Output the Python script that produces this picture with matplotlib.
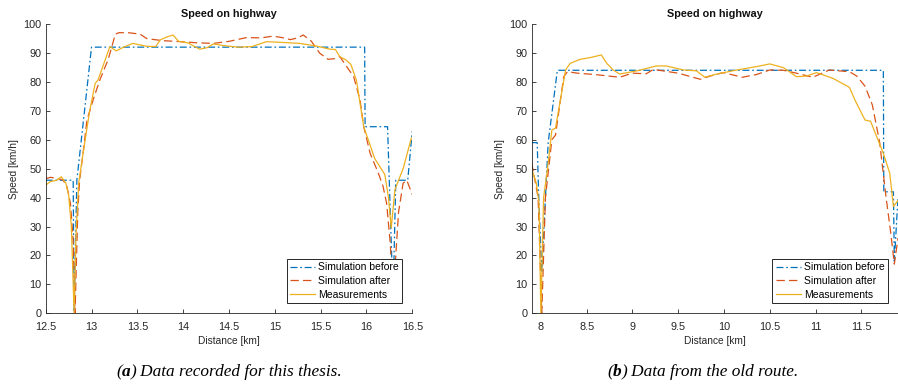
import matplotlib
matplotlib.use("Agg")
import matplotlib.pyplot as plt

plt.rcParams['font.family'] = ['Liberation Sans', 'DejaVu Sans']
plt.rcParams['lines.scale_dashes'] = False

# ---------------- data: (a) Data recorded for this thesis ----------------
before_a_x = [12.5, 12.80, 12.81, 12.84, 13.0, 15.98, 15.985, 16.23, 16.29, 16.32, 16.45, 16.5]
before_a_y = [46, 46, 1, 46, 92, 92, 64.5, 64.5, 5, 46, 46, 63]

after_a_x = [12.5, 12.55, 12.62, 12.69, 12.73, 12.77, 12.80, 12.82, 12.85, 12.87, 12.91,
             12.95, 13.02, 13.09, 13.18, 13.22, 13.26, 13.3, 13.4, 13.53, 13.6, 13.71,
             13.8, 13.97, 14.15, 14.33, 14.5, 14.69, 14.85, 14.98, 15.08, 15.17, 15.25,
             15.31, 15.4, 15.49, 15.58, 15.65, 15.71, 15.79, 15.86, 15.93, 15.97, 16.04,
             16.13, 16.18, 16.22, 16.26, 16.29, 16.31, 16.35, 16.4, 16.44, 16.5]
after_a_y = [46.5, 47, 46.7, 46, 44, 38, 25, 0, 35, 46, 56,
             66.8, 74, 80.6, 87.6, 92, 96.5, 97, 97, 96.5, 95, 94.5,
             94.2, 93.9, 93.5, 93.3, 94, 95.3, 95.2, 95.8, 95.3, 94.6, 95.2,
             96.2, 94, 89.9, 87.8, 88, 88.7, 85, 81.8, 73.7, 64.5, 55.3,
             48.4, 44, 38, 24, 5, 15, 35, 45, 46, 41]

meas_a_x = [12.5, 12.55, 12.62, 12.67, 12.72, 12.75, 12.78, 12.80, 12.81, 12.83, 12.86,
            12.93, 12.98, 13.04, 13.07, 13.12, 13.2, 13.27, 13.35, 13.45, 13.6, 13.7,
            13.75, 13.82, 13.89, 13.95, 14.05, 14.18, 14.26, 14.33, 14.45, 14.6, 14.75,
            14.91, 15.1, 15.27, 15.45, 15.6, 15.66, 15.71, 15.78, 15.83, 15.89, 15.97,
            16.03, 16.09, 16.2, 16.24, 16.27, 16.31, 16.35, 16.4, 16.49]
meas_a_y = [44.3, 45.5, 46, 47.2, 45, 41, 30, 10, 0, 27, 45,
            59.9, 70, 79.5, 80.6, 85, 92.2, 90.7, 92, 93.3, 92.3, 92.2,
            94.5, 95.5, 96.2, 94, 93.5, 91.3, 91.8, 93.1, 92.5, 92, 92.2,
            93.9, 93.6, 93.3, 92.4, 91.3, 91.2, 88.7, 87.5, 86, 80.6, 64.5,
            59, 53.5, 48, 40, 29.5, 42.6, 46, 50, 60.6]

# ---------------- data: (b) Data from the old route ----------------
before_b_x = [7.9, 7.96, 7.975, 8.01, 8.05, 8.08, 8.18, 11.74, 11.745, 11.85, 11.86, 11.9]
before_b_y = [59, 59, 42, 14, 40, 59, 84, 84, 42, 42, 18, 40]

after_b_x = [7.9, 7.97, 8.01, 8.05, 8.12, 8.16, 8.25, 8.29, 8.4, 8.6, 8.86, 9.0, 9.15,
             9.23, 9.5, 9.74, 9.85, 9.99, 10.2, 10.35, 10.5, 10.65, 10.79, 10.97, 11.15,
             11.37, 11.45, 11.54, 11.62, 11.7, 11.77, 11.82, 11.86, 11.9]
after_b_y = [52, 40, 0, 40, 60, 61.6, 81.8, 83.5, 83, 82.5, 81.6, 83, 82.8,
             84.3, 83, 80.9, 82, 83.2, 81.6, 82.5, 84.1, 84, 83, 81.6, 84.1,
             83.5, 82, 78.5, 72, 59, 40, 28, 17, 26]

meas_b_x = [7.9, 7.95, 7.98, 8.0, 8.03, 8.08, 8.12, 8.16, 8.22, 8.27, 8.32, 8.43, 8.54,
            8.66, 8.72, 8.79, 8.86, 9.05, 9.26, 9.37, 9.56, 9.70, 9.79, 9.92, 10.14,
            10.36, 10.5, 10.65, 10.79, 10.9, 11.01, 11.19, 11.37, 11.43, 11.54, 11.6,
            11.74, 11.81, 11.85, 11.9]
meas_b_y = [50, 45, 38, 0, 40, 51.8, 63.4, 64, 75, 84.1, 86.4, 87.8, 88.4,
            89.3, 86.4, 84.1, 82.7, 83.8, 85.5, 85.5, 84.1, 83.8, 81.6, 82.7, 84.1,
            85.3, 86.2, 84.9, 81.8, 82, 83.2, 81.2, 78.1, 73.7, 66.8, 66.4,
            55.3, 48.4, 36.9, 39]

labels = ["Simulation before", "Simulation after", "Measurements"]
title = "Speed on highway"
xlabel = "Distance [km]"
ylabel = "Speed [km/h]"
yticks = [0, 10, 20, 30, 40, 50, 60, 70, 80, 90, 100]
xticks_a = [12.5, 13, 13.5, 14, 14.5, 15, 15.5, 16, 16.5]
xticks_b = [8, 8.5, 9, 9.5, 10, 10.5, 11, 11.5]
xtl_a = ["12.5", "13", "13.5", "14", "14.5", "15", "15.5", "16", "16.5"]
xtl_b = ["8", "8.5", "9", "9.5", "10", "10.5", "11", "11.5"]

C_BLUE = (0.0, 0.447, 0.741)
C_RED = (0.85, 0.325, 0.098)
C_YEL = (0.929, 0.694, 0.125)
AX_C = '#262626'

W, H = 898, 392
fig = plt.figure(figsize=(W / 100, H / 100), dpi=100)

def make_ax(rect, xlim, xticks, xtl, data):
    ax = fig.add_axes(rect)
    (bx, by), (ax_, ay), (mx, my) = data
    ax.plot(bx, by, color=C_BLUE, lw=0.9, dashes=(5, 2, 1.2, 2), label=labels[0])
    ax.plot(ax_, ay, color=C_RED, lw=0.9, dashes=(6, 3), label=labels[1])
    ax.plot(mx, my, color=C_YEL, lw=0.9, label=labels[2])
    ax.set_xlim(*xlim)
    ax.set_ylim(0, 100)
    ax.set_xticks(xticks)
    ax.set_xticklabels(xtl)
    ax.set_yticks(yticks)
    for s in ['top', 'right']:
        ax.spines[s].set_visible(False)
    for s in ['left', 'bottom']:
        ax.spines[s].set_color(AX_C)
        ax.spines[s].set_linewidth(0.6)
    ax.tick_params(direction='in', length=3, width=0.6, colors=AX_C,
                   labelsize=7.8, pad=3)
    ax.tick_params(axis='x', pad=6.5)
    ax.set_title(title, fontsize=7.8, fontweight='bold', color='#111111', pad=5)
    ax.set_xlabel(xlabel, fontsize=7.3, color=AX_C, labelpad=3)
    ax.set_ylabel(ylabel, fontsize=7.3, color=AX_C, labelpad=3)
    leg = ax.legend(loc='lower right', fontsize=7.5, frameon=True, fancybox=False,
                    framealpha=1, edgecolor=AX_C, handlelength=2.4,
                    borderaxespad=1.0, labelspacing=0.35, borderpad=0.3,
                    handletextpad=0.3)
    leg.get_frame().set_linewidth(0.7)
    return ax

bottom = (H - 313.3) / H
height = (313.3 - 24) / H
ax1 = make_ax([45.7 / W, bottom, (412.3 - 45.7) / W, height], (12.5, 16.5),
              xticks_a, xtl_a,
              ((before_a_x, before_a_y), (after_a_x, after_a_y), (meas_a_x, meas_a_y)))
ax2 = make_ax([531.7 / W, bottom, (898 - 531.7) / W, height], (7.9, 11.9),
              xticks_b, xtl_b,
              ((before_b_x, before_b_y), (after_b_x, after_b_y), (meas_b_x, meas_b_y)))

# captions, assembled piece by piece: "(" + bold "a" + ") Data ..."
def caption(cx, cy_top, letter, rest):
    fs = 12.4
    fam = ['Liberation Serif', 'DejaVu Serif']
    r = fig.canvas.get_renderer()
    parts = [("(", 'normal'), (letter, 'bold'), (") " + rest, 'normal')]
    texts = []
    for s, wgt in parts:
        t = fig.text(0, (H - cy_top) / H, s, fontsize=fs, family=fam, style='italic',
                     weight=wgt, va='center', ha='left', color='black')
        texts.append(t)
    widths = [t.get_window_extent(r).width for t in texts]
    total = sum(widths)
    x = cx - total / 2
    for t, w in zip(texts, widths):
        t.set_x(x / W)
        x += w

fig.canvas.draw()
caption(229, 372, "a", "Data recorded for this thesis.")
caption(703, 372, "b", "Data from the old route.")

fig.savefig("out.png", dpi=100)
